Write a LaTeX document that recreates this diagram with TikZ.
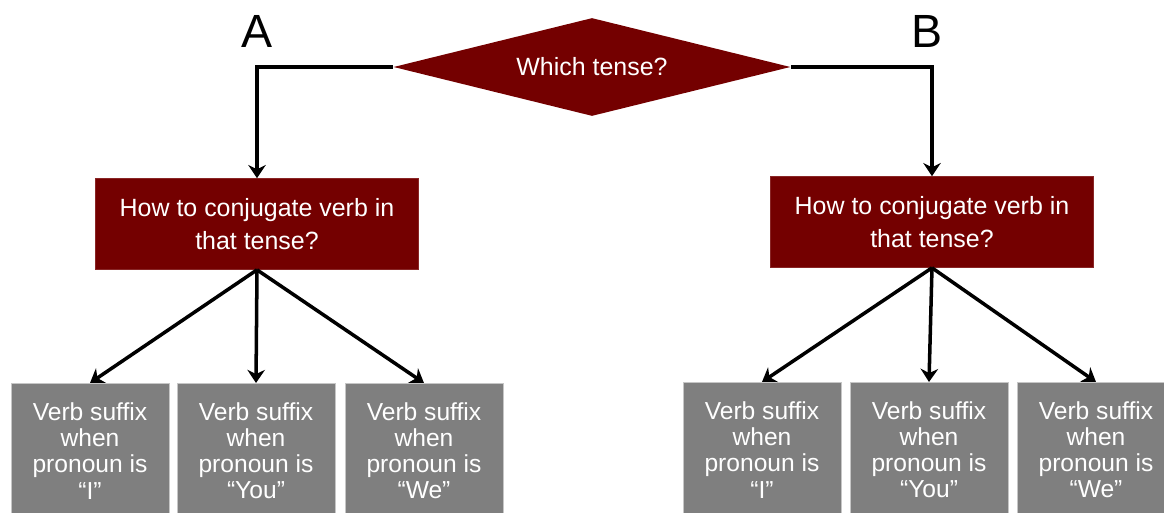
\documentclass[tikz,border=0pt]{standalone}
\usepackage{fontspec}
\setmainfont{Liberation Sans}
\usepackage{xcolor}
\usetikzlibrary{arrows.meta,positioning,shapes.geometric}
\definecolor{tensered}{HTML}{740000}
\definecolor{suffixgray}{HTML}{7F7F7F}

\begin{document}
\begin{tikzpicture}[x=0.02cm, y=-0.02cm,
    question/.style={diamond, aspect=4, inner sep=0pt, fill=tensered, text=white,
        minimum width=7.94cm, minimum height=1.96cm, font=\fontsize{14.2}{17}\selectfont},
    conjbox/.style={rectangle, fill=tensered, draw=tensered!85!white, text=white,
        minimum width=6.45cm, minimum height=1.82cm, align=center,
        font=\fontsize{14.2}{18.9}\selectfont},
    suffixbox/.style={rectangle, fill=suffixgray, draw=gray!45, text=white, anchor=north,
        minimum width=3.16cm, minimum height=2.7cm, align=center,
        font=\fontsize{14}{14.9}\selectfont},
    branch/.style={inner sep=0pt, font=\fontsize{26.5}{30}\selectfont},
    link/.style={-{Stealth[length=7.5pt,width=10pt]}, line width=2pt}]
    \useasboundingbox (0,0) rectangle (1164,513);
    \clip (0,0) rectangle (1164,513);
    % Decision
    \node[question] (tense) at (592,67) {Which tense?};
    \node[branch] (labA) at (257,31) {A};
    \node[branch] (labB) at (927,31) {B};
    % Conjugation boxes
    \node[conjbox] (conjA) at (257,224) {How to conjugate verb in\\that tense?};
    \node[conjbox] (conjB) at (932,222) {How to conjugate verb in\\that tense?};
    % Suffix boxes, side A
    \node[suffixbox] (iA) at (90,383) {Verb suffix\\when\\pronoun is\\“I”};
    \node[suffixbox] (youA) at (256,383) {Verb suffix\\when\\pronoun is\\“You”};
    \node[suffixbox] (weA) at (424,383) {Verb suffix\\when\\pronoun is\\“We”};
    % Suffix boxes, side B
    \node[suffixbox] (iB) at (762,382) {Verb suffix\\when\\pronoun is\\“I”};
    \node[suffixbox] (youB) at (929,382) {Verb suffix\\when\\pronoun is\\“You”};
    \node[suffixbox] (weB) at (1096,382) {Verb suffix\\when\\pronoun is\\“We”};
    % Connectors
    \draw[link] (tense.west) -| (conjA.north);
    \draw[link] (tense.east) -| (conjB.north);
    \foreach \g in {iA,youA,weA} {
        \draw[link] (conjA.south) -- (\g.north);
    }
    \foreach \g in {iB,youB,weB} {
        \draw[link] (conjB.south) -- (\g.north);
    }
\end{tikzpicture}
\end{document}
